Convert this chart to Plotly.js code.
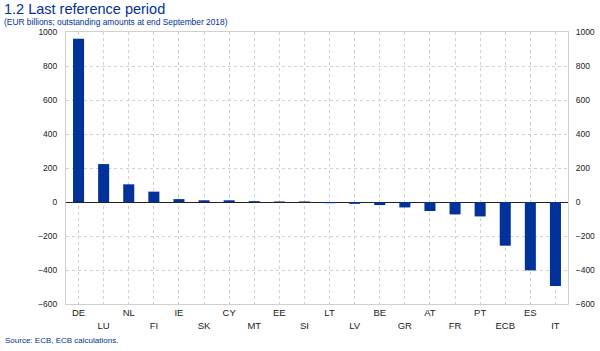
<!DOCTYPE html>
<html><head><meta charset="utf-8">
<script src="https://cdn.plot.ly/plotly-3.0.1.min.js"></script>
<style>body{margin:0;background:#fff}#c{width:600px;height:351px}</style>
</head><body><div id="c"></div>
<script>
const categories = ["DE","LU","NL","FI","IE","SK","CY","MT","EE","SI","LT","LV","BE","GR","AT","FR","PT","ECB","ES","IT"];
const values = [961, 223, 104, 61, 17, 10, 10, 5, 3, 3, -7, -11, -18, -32, -53, -73, -85, -257, -402, -494];
const yTicks = [-600,-400,-200,0,200,400,600,800,1000];

const tickText = categories.map((c,i)=> i%2 ? '<br>'+c : c);
const blue = '#003299';
const gridCol = '#d0d0d0';

const traces = [
  {type:'bar', x:categories, y:values, marker:{color:blue}, hoverinfo:'skip', xaxis:'x', yaxis:'y'},
  {type:'scatter', mode:'markers', x:categories, y:values, marker:{opacity:0, size:1}, hoverinfo:'skip', xaxis:'x', yaxis:'y2', showlegend:false}
];

const layout = {
  width:600, height:351,
  margin:{l:66, r:32, t:32, b:47},
  paper_bgcolor:'#fff', plot_bgcolor:'#fff',
  showlegend:false,
  bargap:0.56,
  font:{family:'Liberation Sans, Arial, sans-serif', size:9, color:'#222'},
  xaxis:{type:'category', range:[-0.5, categories.length-0.5], tickmode:'array', tickvals:categories, ticktext:tickText,
         showgrid:true, gridcolor:gridCol, griddash:'dot', gridwidth:1,
         showline:true, linecolor:gridCol, mirror:true, ticks:'', tickfont:{size:9.5, color:'#222'},
         zeroline:false, fixedrange:true},
  yaxis:{range:[-600,1000], tickvals:yTicks, showgrid:true, gridcolor:gridCol, griddash:'dot',
         zeroline:true, zerolinecolor:'#222', zerolinewidth:1,
         showline:true, linecolor:gridCol, ticks:'', tickfont:{size:8.5, color:'#222'}, ticklabelstandoff:6},
  yaxis2:{range:[-600,1000], tickvals:yTicks, overlaying:'y', side:'right', showgrid:false,
          zeroline:false, showline:true, linecolor:gridCol, ticks:'', tickfont:{size:8.5, color:'#222'}, ticklabelstandoff:5},
  annotations:[
    {text:'1.2 Last reference period', xref:'paper', yref:'paper',
     x:-0.127, xanchor:'left', y:1.0, yanchor:'middle', yshift:23, showarrow:false, font:{size:14.5, color:blue}},
    {text:'(EUR billions; outstanding amounts at end September 2018)', xref:'paper', yref:'paper',
     x:-0.127, xanchor:'left', y:1.0, yanchor:'middle', yshift:10.5, showarrow:false, font:{size:8.4, color:blue}},
    {text:'Source: ECB, ECB calculations.', xref:'paper', yref:'paper',
     x:-0.125, xanchor:'left', y:0, yanchor:'middle', yshift:-36, showarrow:false, font:{size:8, color:blue}}
  ]
};
Plotly.newPlot('c', traces, layout, {displayModeBar:false, staticPlot:true});
</script></body></html>
